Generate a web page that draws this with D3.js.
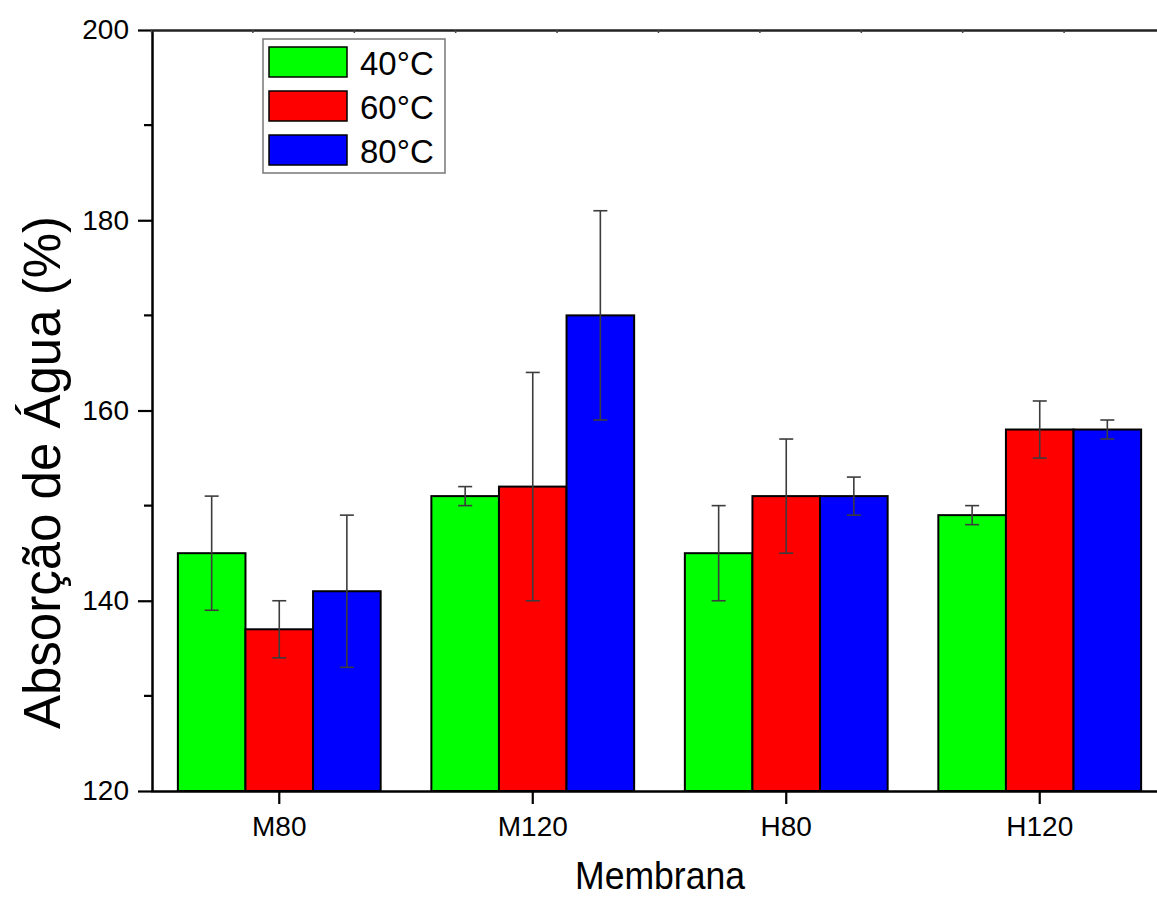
<!DOCTYPE html>
<html>
<head>
<meta charset="utf-8">
<script src="https://cdn.jsdelivr.net/npm/d3@7"></script>
<style>
  html, body { margin: 0; padding: 0; background: #fff; }
  svg { display: block; }
  text { font-family: "Liberation Sans", Arial, sans-serif; fill: #000; }
</style>
</head>
<body>
<svg class="chart"></svg>
<script>
const width = 1157,
  height = 897;

// data
const categories = ["M80", "M120", "H80", "H120"];
const series = ["40°C", "60°C", "80°C"];
const colors = ["#00ff00", "#ff0000", "#0000ff"];
const values40 = [145, 151, 145, 149];
const values60 = [137, 152, 151, 158];
const values80 = [141, 170, 151, 158];
const errors40 = [6, 1, 5, 1];
const errors60 = [3, 12, 6, 3];
const errors80 = [8, 11, 2, 1];
const yTicks = [120, 140, 160, 180, 200];
const yMinorTicks = [130, 150, 170, 190];

const values = [values40, values60, values80];
const errors = [errors40, errors60, errors80];

const plotLeft = 152, plotRight = 1168, plotTop = 30, plotBottom = 791;

var chart = d3.select(".chart")
  .attr("width", width)
  .attr("height", height);

var y = d3.scaleLinear()
  .domain([120, 200])
  .range([plotBottom, plotTop]);

var x0 = d3.scaleBand()
  .domain(categories)
  .range([plotLeft - 1, plotRight])
  .paddingInner(0.2)
  .paddingOuter(0.106);

var x1 = d3.scaleBand()
  .domain(series)
  .range([0, x0.bandwidth()]);

// flatten to one record per bar
let bars = [];
categories.forEach((c, i) => {
  series.forEach((s, j) => {
    bars.push({ cat: c, ser: s, j: j, v: values[j][i], e: errors[j][i] });
  });
});

// bars
chart.append("g").selectAll("rect")
  .data(bars)
  .enter().append("rect")
  .attr("x", d => x0(d.cat) + x1(d.ser))
  .attr("y", d => y(d.v))
  .attr("width", x1.bandwidth())
  .attr("height", d => y(120) - y(d.v))
  .attr("fill", d => colors[d.j])
  .attr("stroke", "#000")
  .attr("stroke-width", 2);

// error bars
let eb = chart.append("g")
  .attr("stroke", "#3c3c3c")
  .attr("stroke-width", 1.6)
  .selectAll("g")
  .data(bars)
  .enter().append("g")
  .attr("transform", d => `translate(${x0(d.cat) + x1(d.ser) + x1.bandwidth() / 2}, 0)`);
eb.append("line")
  .attr("y1", d => y(d.v + d.e))
  .attr("y2", d => y(d.v - d.e));
eb.append("line")
  .attr("x1", -7).attr("x2", 7)
  .attr("y1", d => y(d.v + d.e))
  .attr("y2", d => y(d.v + d.e));
eb.append("line")
  .attr("x1", -7).attr("x2", 7)
  .attr("y1", d => y(d.v - d.e))
  .attr("y2", d => y(d.v - d.e));

// y axis
let yAxis = d3.axisLeft(y)
  .tickValues(yTicks)
  .tickSizeInner(14)
  .tickSizeOuter(0)
  .tickPadding(9);
let gy = chart.append("g")
  .attr("transform", `translate(${plotLeft}, 0)`)
  .call(yAxis);
gy.select(".domain").attr("stroke-width", 2.5);
gy.selectAll(".tick line").attr("stroke-width", 2.2);
gy.selectAll(".tick text")
  .attr("font-size", 28)
  .attr("font-family", "Liberation Sans, Arial, sans-serif");
gy.selectAll(".minor")
  .data(yMinorTicks)
  .enter().append("line")
  .attr("class", "minor")
  .attr("x1", -8).attr("x2", 0)
  .attr("y1", d => y(d)).attr("y2", d => y(d))
  .attr("stroke", "#000")
  .attr("stroke-width", 2.2);

// x axis
let xAxis = d3.axisBottom(x0)
  .tickSizeInner(13)
  .tickSizeOuter(0)
  .tickPadding(12);
let gx = chart.append("g")
  .attr("transform", `translate(0, ${plotBottom})`)
  .call(xAxis);
gx.select(".domain").attr("stroke-width", 2.5);
gx.selectAll(".tick line").attr("stroke-width", 2.2);
gx.selectAll(".tick text")
  .attr("font-size", 28)
  .attr("font-family", "Liberation Sans, Arial, sans-serif");

// top frame line with tiny ticks
let topScale = d3.scaleLinear().domain([0, 10]).range([plotLeft - 1, plotLeft - 1 + 1014]);
let gt = chart.append("g")
  .attr("transform", `translate(0, ${plotTop})`)
  .call(d3.axisBottom(topScale).ticks(10).tickSizeInner(3).tickSizeOuter(0).tickFormat(""));
gt.select(".domain").attr("stroke-width", 2.5).attr("stroke", "#222");
gt.selectAll(".tick line").attr("stroke", "#444").attr("stroke-width", 1.5);

// right frame (outside the visible window)
chart.append("line")
  .attr("x1", plotRight).attr("x2", plotRight)
  .attr("y1", plotTop).attr("y2", plotBottom)
  .attr("stroke", "#000").attr("stroke-width", 2.5);

// axis titles
chart.append("text")
  .attr("transform", `translate(60, ${(plotTop + plotBottom) / 2 + 62}) rotate(-90)`)
  .attr("text-anchor", "middle")
  .attr("font-size", 51)
  .text("Absorção de Água (%)");

chart.append("text")
  .attr("x", 660)
  .attr("y", 889)
  .attr("text-anchor", "middle")
  .attr("font-size", 39)
  .attr("font-family", "Liberation Sans Narrow, Arial Narrow, Liberation Sans, sans-serif")
  .attr("textLength", 170)
  .attr("lengthAdjust", "spacingAndGlyphs")
  .text("Membrana");

// legend
let legend = chart.append("g").attr("transform", "translate(263, 39)");
legend.append("rect")
  .attr("width", 182)
  .attr("height", 134)
  .attr("fill", "#fff")
  .attr("stroke", "#777")
  .attr("stroke-width", 1.5);
let item = legend.selectAll(".item")
  .data(series)
  .enter().append("g")
  .attr("class", "item")
  .attr("transform", (d, i) => `translate(6, ${8 + i * 44})`);
item.append("rect")
  .attr("width", 78)
  .attr("height", 30)
  .attr("fill", (d, i) => colors[i])
  .attr("stroke", "#000")
  .attr("stroke-width", 1.5);
item.append("text")
  .attr("x", 91)
  .attr("y", 28)
  .attr("font-size", 33)
  .attr("font-family", "DejaVu Sans, Verdana, sans-serif")
  .text(d => d);
</script>
</body>
</html>
